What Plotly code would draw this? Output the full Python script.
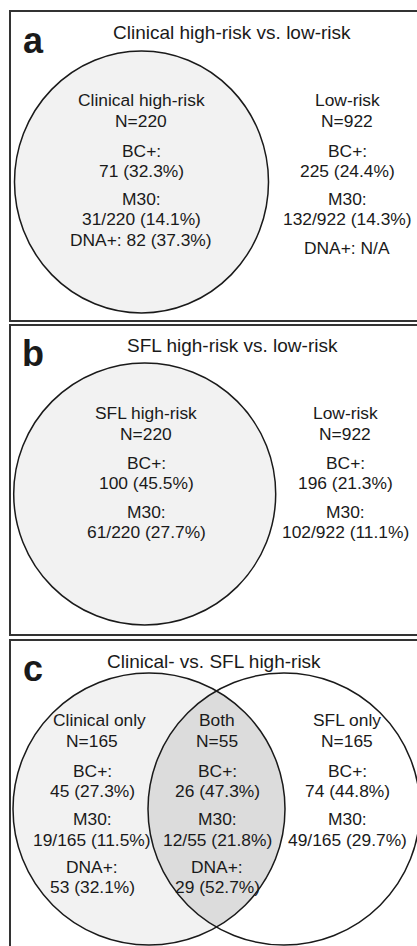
import numpy as np
import plotly.graph_objects as go

# ---------------- data ----------------
panel_letters = ["a", "b", "c"]
panel_titles = ["Clinical high-risk vs. low-risk",
                "SFL high-risk vs. low-risk",
                "Clinical- vs. SFL high-risk"]

a_groups = ["Clinical high-risk", "Low-risk"]
a_n = [220, 922]
a_bc = [71, 225]
a_bc_pct = [32.3, 24.4]
a_m30 = [31, 132]
a_m30_pct = [14.1, 14.3]
a_dna = [82, None]
a_dna_pct = [37.3, None]

b_groups = ["SFL high-risk", "Low-risk"]
b_n = [220, 922]
b_bc = [100, 196]
b_bc_pct = [45.5, 21.3]
b_m30 = [61, 102]
b_m30_pct = [27.7, 11.1]

c_groups = ["Clinical only", "Both", "SFL only"]
c_n = [165, 55, 165]
c_bc = [45, 26, 74]
c_bc_pct = [27.3, 47.3, 44.8]
c_m30 = [19, 12, 49]
c_m30_pct = [11.5, 21.8, 29.7]
c_dna = [53, 29, None]
c_dna_pct = [32.1, 52.7, None]

# ---------------- layout geometry (pixels) ----------------
W, H = 417, 946
FONT = "Liberation Sans, Arial, sans-serif"
TXT = 17.4
panels_y = [(11, 321), (325, 635), (640, 980)]
letter_pos = [(33, 40), (33, 353), (33, 668)]
title_pos = [(232, 32), (232, 345), (214, 661)]

fig = go.Figure()
shapes = []
annotations = []

def add_text(x, y, s, size=TXT, bold=False):
    annotations.append(dict(
        x=x, y=y, xref="x", yref="y", text=("<b>%s</b>" % s) if bold else s,
        showarrow=False, xanchor="center", yanchor="middle",
        font=dict(family=FONT, size=size, color="#1a1a1a")))

# panel frames
for (y0, y1) in panels_y:
    shapes.append(dict(type="rect", x0=10, x1=W + 20, y0=y0, y1=y1,
                       line=dict(color="#333333", width=2), fillcolor="rgba(0,0,0,0)"))

# panel a circle
shapes.append(dict(type="circle", x0=141.5 - 127, x1=141.5 + 127, y0=182 - 131, y1=182 + 131,
                   fillcolor="#f2f2f2", line=dict(color="#1a1a1a", width=1.5)))
# panel b circle
shapes.append(dict(type="circle", x0=144.7 - 131, x1=144.7 + 131, y0=494 - 131, y1=494 + 131,
                   fillcolor="#f2f2f2", line=dict(color="#1a1a1a", width=1.5)))

# panel c circles
r = 136
cy = 809
cx1, cx2 = 149, 284
shapes.append(dict(type="circle", x0=cx1 - r, x1=cx1 + r, y0=cy - r, y1=cy + r,
                   fillcolor="#f2f2f2", line=dict(width=0)))
half = (cx2 - cx1) / 2
th = np.arccos(half / r)
t1 = np.linspace(-th, th, 80)
pts = list(zip(cx1 + r * np.cos(t1), cy + r * np.sin(t1)))
t2 = np.linspace(np.pi - th, np.pi + th, 80)
pts += list(zip(cx2 + r * np.cos(t2), cy + r * np.sin(t2)))
path = "M " + " L ".join("%.2f,%.2f" % p for p in pts) + " Z"
shapes.append(dict(type="path", path=path, fillcolor="#dcdcdc", line=dict(width=0)))
for cx in (cx1, cx2):
    shapes.append(dict(type="circle", x0=cx - r, x1=cx + r, y0=cy - r, y1=cy + r,
                       fillcolor="rgba(0,0,0,0)", line=dict(color="#1a1a1a", width=1.5)))

# letters and titles
for (lx, ly), L in zip(letter_pos, panel_letters):
    add_text(lx, ly, L, size=36, bold=True)
for (tx, ty), T in zip(title_pos, panel_titles):
    add_text(tx, ty, T, size=19)

# panel a text
a_x = [141, 347]
a_y = [100, 121, 151, 171, 199, 219]
a_dna_y = [240, 248]
for i in range(2):
    lines = [a_groups[i], "N=%d" % a_n[i], "BC+:", "%d (%.1f%%)" % (a_bc[i], a_bc_pct[i]),
             "M30:", "%d/%d (%.1f%%)" % (a_m30[i], a_n[i], a_m30_pct[i])]
    for s, y in zip(lines, a_y):
        add_text(a_x[i], y, s)
    dna = "DNA+: %d (%.1f%%)" % (a_dna[i], a_dna_pct[i]) if a_dna[i] is not None else "DNA+: N/A"
    add_text(a_x[i], a_dna_y[i], dna)

# panel b text
b_x = [146, 345]
b_y = [413, 434, 463, 483, 512, 532]
for i in range(2):
    lines = [b_groups[i], "N=%d" % b_n[i], "BC+:", "%d (%.1f%%)" % (b_bc[i], b_bc_pct[i]),
             "M30:", "%d/%d (%.1f%%)" % (b_m30[i], b_n[i], b_m30_pct[i])]
    for s, y in zip(lines, b_y):
        add_text(b_x[i], y, s)

# panel c text
c_x = [92, 217, 347]
c_head_x = [99, 217, 347]
c_y = [720, 741, 771, 791, 819, 840, 867, 887]
for i in range(3):
    lines = [c_groups[i], "N=%d" % c_n[i], "BC+:", "%d (%.1f%%)" % (c_bc[i], c_bc_pct[i]),
             "M30:", "%d/%d (%.1f%%)" % (c_m30[i], c_n[i], c_m30_pct[i])]
    if c_dna[i] is not None:
        lines += ["DNA+:", "%d (%.1f%%)" % (c_dna[i], c_dna_pct[i])]
    for j, (s, y) in enumerate(zip(lines, c_y)):
        add_text(c_head_x[i] if j == 0 else c_x[i], y, s)

fig.update_layout(
    width=W, height=H,
    margin=dict(l=0, r=0, t=0, b=0),
    paper_bgcolor="white", plot_bgcolor="white",
    xaxis=dict(range=[0, W], visible=False, fixedrange=True),
    yaxis=dict(range=[H, 0], visible=False, fixedrange=True),
    shapes=shapes, annotations=annotations, showlegend=False,
)
fig.write_html("out.html", config={"displayModeBar": False},
               post_script="document.body.style.margin='0';document.body.style.overflow='hidden';")
